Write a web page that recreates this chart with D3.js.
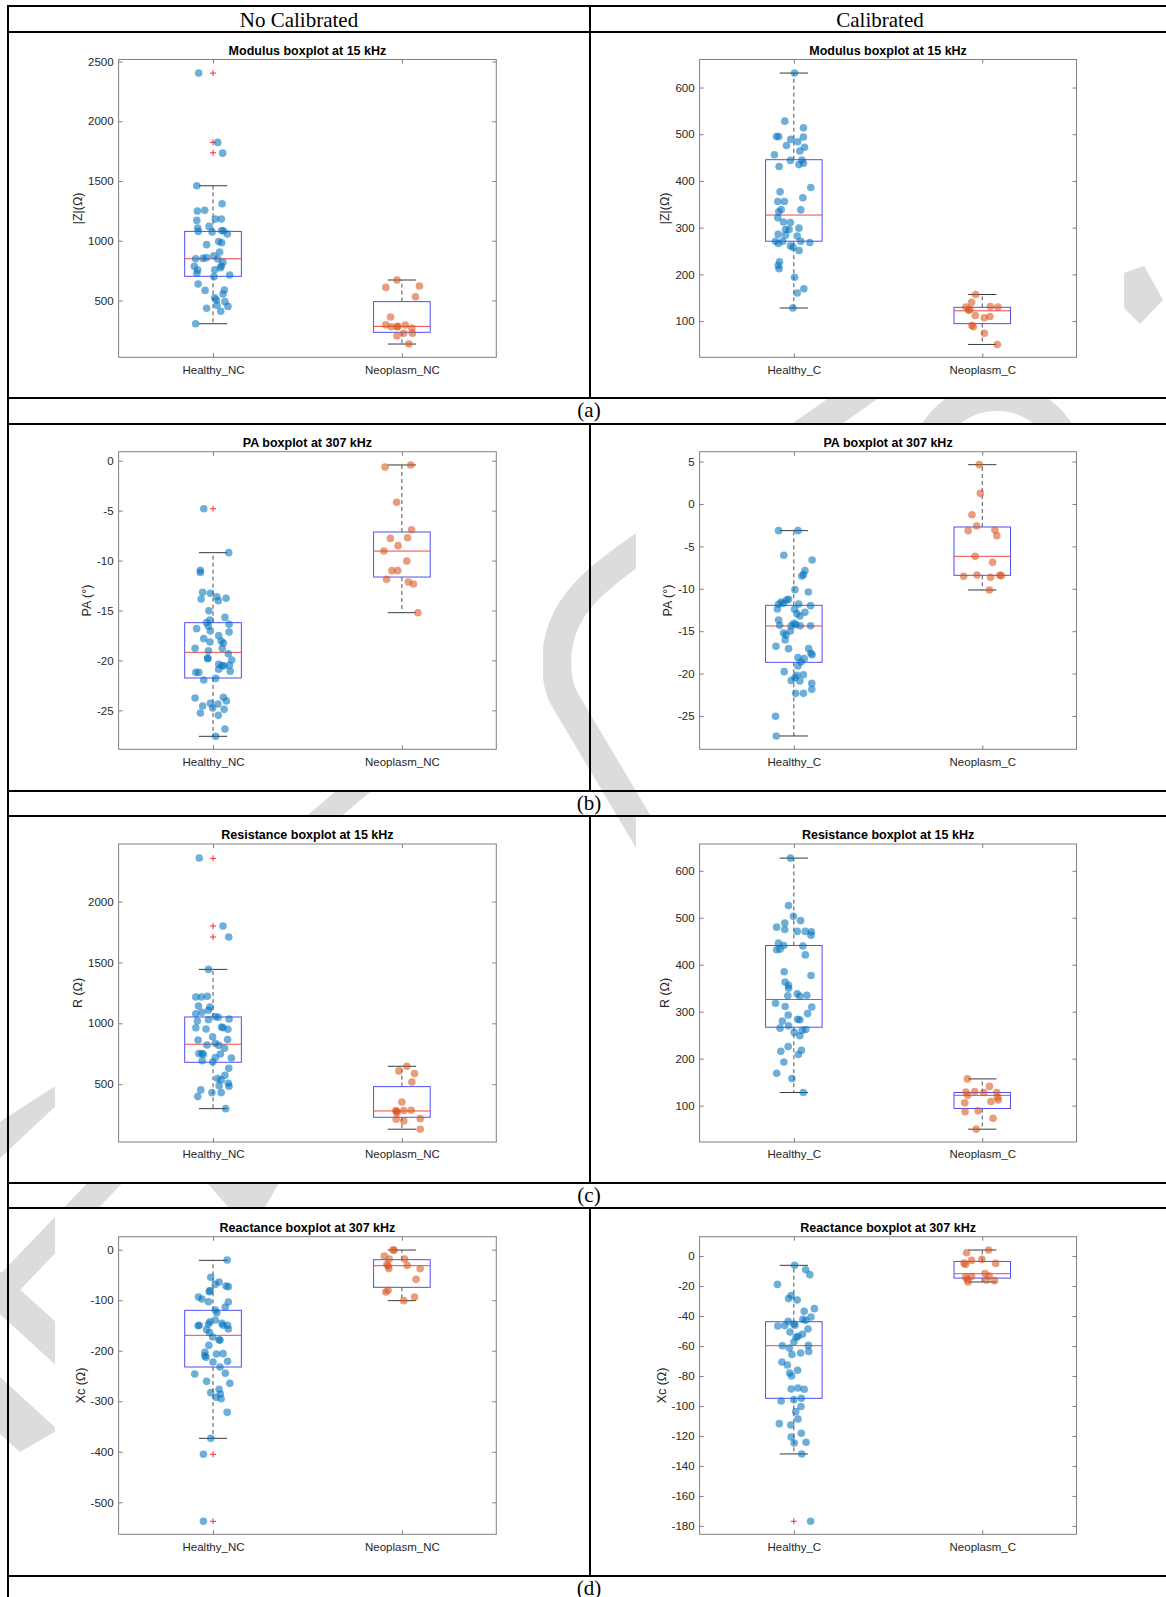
<!DOCTYPE html>
<html><head><meta charset="utf-8">
<script src="https://cdn.jsdelivr.net/npm/d3@7"></script>
<style>body{margin:0;background:#fff} svg{display:block}</style>
</head><body>
<svg id="c" width="1166" height="1597"></svg>
<script>
// ---------------- DATA ----------------
const columnHeaders = ["No Calibrated", "Calibrated"];
const rowLabels = ["(a)", "(b)", "(c)", "(d)"];
const panelTitles = ["Modulus boxplot at 15 kHz", "PA boxplot at 307 kHz", "Resistance boxplot at 15 kHz", "Reactance boxplot at 307 kHz"];
const yLabels = ["|Z|(Ω)", "PA (°)", "R (Ω)", "Xc (Ω)"];
const catsNC = ["Healthy_NC", "Neoplasm_NC"];
const catsC = ["Healthy_C", "Neoplasm_C"];

// y-axis ticks and limits
const aNC_ticks = [500, 1000, 1500, 2000, 2500], aNC_lim = [24, 2517];
const aC_ticks = [100, 200, 300, 400, 500, 600], aC_lim = [22.5, 660];
const bNC_ticks = [-25, -20, -15, -10, -5, 0], bNC_lim = [-28.9, 0.9];
const bC_ticks = [-25, -20, -15, -10, -5, 0, 5], bC_lim = [-28.93, 6.17];
const cNC_ticks = [500, 1000, 1500, 2000], cNC_lim = [25, 2473];
const cC_ticks = [100, 200, 300, 400, 500, 600], cC_lim = [22.7, 657];
const dNC_ticks = [-500, -400, -300, -200, -100, 0], dNC_lim = [-563.3, 25.7];
const dC_ticks = [-180, -160, -140, -120, -100, -80, -60, -40, -20, 0], dC_lim = [-185.6, 12.9];

// (a) Modulus, no calibrated
const aNC_H = [2403,1823,1733,1460,1310,1248,1254,1170,1181,1181,1120,1106,1078,1073,1086,1081,1056,994,983,967,905,849,852,858,874,847,819,785,755,727,788,774,757,699,713,637,584,587,554,523,503,490,459,450,434,409,305];
const aNC_Hj = [-0.076,0.025,0.051,-0.086,0.048,-0.083,-0.044,-0.086,0.012,0.044,-0.021,-0.081,-0.078,-0.005,0.046,0.056,0.076,0.030,0.046,-0.034,0.035,-0.092,-0.053,-0.035,0.004,0.025,0.053,-0.099,-0.081,-0.086,0.044,0.039,0.009,0.005,0.088,-0.079,-0.042,0.060,0.053,0.009,0.018,0.063,0.021,0.079,-0.034,0.041,-0.092];
const aNC_N = [671,609,621,531,361,297,280,280,283,294,269,225,202,225,135];
const aNC_Nj = [-0.026,-0.085,0.093,0.072,-0.060,-0.085,-0.056,-0.025,-0.021,0.018,0.053,0.009,-0.026,0.056,0.037];
const aNC_Hbox = [305,702,849,1078,1460], aNC_Hout = [2403,1823,1736];
const aNC_Nbox = [135,233,283,490,671], aNC_Nout = [];

// (a) Modulus, calibrated
const aC_H = [631,528,514,495,495,494,489,484,476,472,464,456,444,445,438,435,431,386,377,364,356,356,339,334,338,321,312,311,299,296,296,286,284,282,271,266,271,271,268,261,258,251,227,219,212,194,169,160,128];
const aC_Hj = [0.004,-0.048,0.051,-0.092,-0.080,0.051,-0.016,0.021,-0.039,0.057,0.032,-0.103,-0.018,0.043,0.051,0.027,-0.078,0.090,-0.073,0.048,-0.085,-0.050,-0.067,-0.080,0.037,-0.085,-0.055,-0.018,0.027,-0.044,-0.025,-0.083,-0.044,0.018,-0.097,-0.082,-0.059,0.037,0.085,-0.018,-0.004,0.028,-0.076,-0.083,-0.078,0.004,0.053,0.018,-0.005];
const aC_N = [157,140,130,125,131,130,112,107,110,91,88,74,50,123];
const aC_Nj = [-0.035,-0.057,-0.087,-0.066,0.043,0.083,-0.037,0.011,0.041,-0.055,-0.048,0.011,0.080,-0.073];
const aC_Hbox = [128,271,327,445.5,631], aC_Hout = [];
const aC_Nbox = [50,94.6,122,129.5,157], aC_Nout = [];

// (b) Phase angle, no calibrated
const bNC_H = [-4.81,-9.21,-10.98,-11.2,-13.18,-13.28,-13.85,-13.62,-14.02,-13.78,-15.02,-15.69,-15.95,-16.22,-16.59,-16.39,-16.82,-17.06,-17.16,-17.52,-17.82,-18.16,-18.06,-18.26,-18.79,-18.79,-19.03,-19.33,-19.76,-19.83,-19.96,-20.39,-20.53,-20.53,-20.49,-20.89,-21.09,-21.2,-21.2,-21.8,-21.96,-23.77,-23.7,-24.07,-24.3,-24.37,-24.57,-24.77,-24.9,-25.27,-25.5,-26.87,-27.6];
const bNC_Hj = [-0.049,0.083,-0.067,-0.067,-0.055,-0.014,-0.063,0.020,0.028,0.069,-0.022,0.063,-0.016,-0.034,-0.024,0.085,-0.087,-0.014,0.085,0.030,-0.049,-0.016,0.043,0.055,0.049,-0.095,-0.024,0.081,-0.028,-0.028,0.099,0.030,0.047,0.059,0.087,0.030,0.091,-0.091,-0.075,0.014,-0.049,-0.095,0.055,0.071,-0.014,0.026,-0.055,-0.002,0.059,-0.067,0.028,0.063,0.014];
const bNC_N = [-0.63,-0.43,-4.17,-6.91,-7.78,-7.71,-8.51,-9.05,-10.05,-11.01,-11.01,-11.88,-12.15,-12.35,-15.22];
const bNC_Nj = [-0.089,0.047,-0.028,0.051,-0.061,0.030,-0.020,-0.095,0.026,-0.053,-0.022,-0.081,0.034,0.061,0.085];
const bNC_Hbox = [-27.6,-21.76,-19.19,-16.22,-9.21], bNC_Hout = [-4.81];
const bNC_Nbox = [-15.22,-11.65,-9.05,-7.14,-0.43], bNC_Nout = [];

// (b) Phase angle, calibrated
const bC_H = [-3.14,-3.14,-6.05,-6.6,-7.86,-8.33,-8.49,-10.1,-10.38,-11.24,-11.32,-11.56,-11.71,-11.83,-11.79,-11.99,-12.38,-12.42,-12.78,-12.93,-13.21,-13.68,-14.31,-14.07,-14.23,-14.35,-14.35,-14.35,-14.98,-15.21,-15.45,-16.04,-16.78,-17.06,-17.06,-17.61,-17.77,-18.12,-18.24,-18.63,-19.1,-19.77,-20.13,-20.2,-20.48,-20.83,-20.87,-21.15,-21.86,-22.33,-22.33,-25.04,-27.36];
const bC_Hj = [-0.081,0.022,-0.053,0.097,0.059,0.051,0.042,0.006,0.077,-0.028,-0.038,-0.067,-0.055,-0.081,0.026,0.089,-0.087,0.004,0.059,0.016,0.032,-0.081,-0.075,0.000,0.010,-0.014,0.034,0.089,-0.018,-0.055,-0.042,-0.046,-0.095,-0.028,0.079,0.091,0.097,0.022,0.055,0.038,0.022,-0.051,0.051,0.016,0.006,-0.014,0.032,0.095,0.095,0.010,0.051,-0.097,-0.093];
const bC_N = [4.64,1.26,-1.26,-2.59,-3.14,-3.07,-3.73,-6.17,-6.88,-8.53,-8.37,-8.65,-8.41,-8.45,-10.14];
const bC_Nj = [-0.016,-0.010,-0.055,-0.030,-0.075,0.067,0.077,-0.038,0.055,-0.099,-0.028,0.044,0.093,0.101,0.038];
const bC_Hbox = [-27.36,-18.67,-14.39,-11.95,-3.14], bC_Hout = [];
const bC_Nbox = [-10.14,-8.41,-6.17,-2.71,4.64], bC_Nout = [];

// (c) Resistance, no calibrated
const cNC_H = [2358,1799,1709,1443,1216,1216,1222,1142,1134,1079,1090,1107,1019,1030,1055,1049,1036,964,953,970,964,951,890,863,866,822,836,819,795,751,751,745,748,693,682,718,715,630,573,546,535,507,483,488,453,431,431,398,299];
const cNC_Hj = [-0.073,0.053,0.083,-0.024,-0.091,-0.061,-0.030,-0.077,-0.016,-0.091,-0.059,-0.024,-0.083,-0.024,0.012,0.028,0.085,-0.091,-0.037,0.045,0.053,0.079,-0.002,-0.079,0.077,-0.032,0.012,0.030,0.061,-0.075,-0.059,-0.051,0.039,-0.057,-0.002,0.012,0.097,0.083,0.063,0.024,0.043,0.081,0.085,0.032,-0.065,-0.006,0.043,-0.081,0.067];
const cNC_N = [647,609,587,518,354,275,283,283,286,266,217,212,198,130];
const cNC_Nj = [0.026,-0.016,0.067,0.053,0,-0.028,-0.032,0.010,0.049,-0.026,0.097,-0.030,0.010,0.097];
const cNC_Hbox = [299,680,828,1052,1443], cNC_Hout = [2355,1799,1709];
const cNC_Nbox = [130,228,280,480,647], cNC_Nout = [];

// (c) Resistance, calibrated
const cC_H = [627,526,503,494,489,480,475,471,471,470,463,446,441,440,432,433,421,385,377,363,356,350,338,334,333,335,318,310,311,293,296,284,283,280,270,265,262,256,260,249,226,216,218,209,193,169,158,128];
const cC_Hj = [-0.018,-0.028,-0.002,0.036,-0.048,-0.091,-0.048,0.018,0.061,0.093,0.091,-0.081,-0.053,0.048,-0.091,-0.073,0.061,-0.051,0.091,-0.046,-0.028,-0.028,0.018,-0.032,0.032,0.069,-0.097,0.095,-0.046,-0.030,0.073,0.020,0.032,-0.061,-0.028,-0.073,0.063,0.002,0.044,0.032,-0.030,-0.069,0.040,0.024,-0.053,-0.091,-0.010,0.050];
const cC_N = [157,141,129,130,128,128,122,118,112,109,106,89,87,73,50];
const cC_Nj = [-0.079,0.038,-0.087,-0.040,0.008,0.077,-0.077,0.081,0.085,0.046,-0.093,-0.022,-0.091,0.057,-0.032];
const cC_Hbox = [128,267,326,441,627], cC_Hout = [];
const cC_Nbox = [50,94,122,128,157], cC_Nout = [];

// (d) Reactance, no calibrated
const dNC_H = [-20.4,-54.7,-64,-68.6,-71.9,-73.2,-93.7,-97.6,-102.9,-103.6,-113.5,-81.1,-83.1,-119.4,-124.7,-139.2,-142.5,-147.1,-149.7,-150.4,-145.8,-149.7,-149.7,-157,-158.3,-164.2,-172.8,-178.8,-178.8,-189.3,-203.2,-206.5,-205.8,-209.8,-213.1,-221,-222.3,-232.2,-246,-244.7,-260.6,-264.5,-276.4,-283,-285.6,-292.2,-294.9,-321.9,-373.4,-405,-537.6];
const dNC_Hj = [0.075,-0.012,0.032,0.012,0.069,0.081,-0.077,-0.059,-0.024,0.081,0.065,-0.016,-0.020,0.012,0.020,0.012,-0.016,-0.024,-0.073,-0.079,0.047,0.053,0.077,0.081,-0.034,-0.018,-0.002,0.032,0.037,-0.022,-0.043,0.018,0.053,-0.043,-0.037,0.077,0,0.037,-0.097,0.065,-0.034,0.089,0.032,-0.012,0.039,0.016,0.043,0.075,-0.012,-0.051,-0.051];
const dNC_N = [0,-1.3,-12.5,-18.5,-18.5,-29,-32.3,-31,-37.6,-37.6,-58.7,-80.5,-83.8,-93.7,-100.9];
const dNC_Nj = [-0.047,-0.041,-0.093,-0.067,0.014,-0.079,-0.073,0.028,-0.069,0.097,0.075,-0.073,-0.085,0.067,0.010];
const dNC_Hbox = [-373.4,-232.2,-169.5,-120,-21.1], dNC_Hout = [-405,-537.6];
const dNC_Nbox = [-100.9,-74.5,-31.7,-19.8,-0.7], dNC_Nout = [];

// (d) Reactance, calibrated
const dC_H = [-6.2,-9.1,-12.4,-18.9,-26.4,-28.4,-29.3,-35.1,-36.9,-40.7,-42.2,-42.9,-43.6,-45.3,-46.2,-46.7,-46.4,-48.7,-50.7,-52.2,-53.6,-54.2,-57.3,-59.8,-59.6,-61.3,-63.6,-64.7,-65.6,-70.7,-72.7,-76.2,-78,-80,-88.7,-88,-88.9,-96.7,-95.8,-94.9,-100.4,-103.8,-108.7,-111.8,-112.7,-118.2,-120.7,-124.2,-124.7,-132,-176.9];
const dC_Hj = [0.004,0.063,0.085,-0.087,-0.014,-0.028,0.018,0.109,0.055,0.091,0.048,0.063,-0.030,0,0.006,-0.085,-0.048,0.075,-0.020,0.046,0.022,0.012,0,-0.061,0.077,-0.024,0.079,0.036,-0.010,-0.063,-0.034,0.020,-0.022,-0.012,-0.014,0.022,0.055,-0.067,0,0.040,0.038,0.010,0.022,-0.077,-0.016,0.040,-0.014,0.065,0.002,0.042,0.089];
const dC_N = [4.0,2.2,-2.2,-2.9,-4.7,-5.6,-4.9,-11.6,-13.6,-14.2,-13.3,-15.6,-16,-16.4,-17.3];
const dC_Nj = [0.034,-0.083,-0.002,-0.057,-0.097,-0.089,0.071,0.014,-0.057,-0.089,0.036,-0.079,0.022,0.065,-0.075];
const dC_Hbox = [-132,-94.9,-59.8,-43.8,-6.2], dC_Hout = [-176.9];
const dC_Nbox = [-17.3,-14.7,-11.8,-3.6,4.0], dC_Nout = [];

// ---------------- PANELS ----------------
const panels = [
  {row:0,col:0,cats:catsNC,ticks:aNC_ticks,lim:aNC_lim,H:aNC_H,Hj:aNC_Hj,N:aNC_N,Nj:aNC_Nj,Hbox:aNC_Hbox,Nbox:aNC_Nbox,Hout:aNC_Hout,Nout:aNC_Nout},
  {row:0,col:1,cats:catsC,ticks:aC_ticks,lim:aC_lim,H:aC_H,Hj:aC_Hj,N:aC_N,Nj:aC_Nj,Hbox:aC_Hbox,Nbox:aC_Nbox,Hout:aC_Hout,Nout:aC_Nout},
  {row:1,col:0,cats:catsNC,ticks:bNC_ticks,lim:bNC_lim,H:bNC_H,Hj:bNC_Hj,N:bNC_N,Nj:bNC_Nj,Hbox:bNC_Hbox,Nbox:bNC_Nbox,Hout:bNC_Hout,Nout:bNC_Nout},
  {row:1,col:1,cats:catsC,ticks:bC_ticks,lim:bC_lim,H:bC_H,Hj:bC_Hj,N:bC_N,Nj:bC_Nj,Hbox:bC_Hbox,Nbox:bC_Nbox,Hout:bC_Hout,Nout:bC_Nout},
  {row:2,col:0,cats:catsNC,ticks:cNC_ticks,lim:cNC_lim,H:cNC_H,Hj:cNC_Hj,N:cNC_N,Nj:cNC_Nj,Hbox:cNC_Hbox,Nbox:cNC_Nbox,Hout:cNC_Hout,Nout:cNC_Nout},
  {row:2,col:1,cats:catsC,ticks:cC_ticks,lim:cC_lim,H:cC_H,Hj:cC_Hj,N:cC_N,Nj:cC_Nj,Hbox:cC_Hbox,Nbox:cC_Nbox,Hout:cC_Hout,Nout:cC_Nout},
  {row:3,col:0,cats:catsNC,ticks:dNC_ticks,lim:dNC_lim,H:dNC_H,Hj:dNC_Hj,N:dNC_N,Nj:dNC_Nj,Hbox:dNC_Hbox,Nbox:dNC_Nbox,Hout:dNC_Hout,Nout:dNC_Nout},
  {row:3,col:1,cats:catsC,ticks:dC_ticks,lim:dC_lim,H:dC_H,Hj:dC_Hj,N:dC_N,Nj:dC_Nj,Hbox:dC_Hbox,Nbox:dC_Nbox,Hout:dC_Hout,Nout:dC_Nout}
];

// ---------------- LAYOUT ----------------
const W = 1166, Ht = 1597;
const svg = d3.select("#c");
svg.append("rect").attr("width", W).attr("height", Ht).attr("fill", "#fff");

const tableLeft = 8, tableTop = 6, headerBottom = 32, colDiv = 590;
const panelRows = [[32,398],[424,791],[816,1183],[1208,1576]];
const imgX = [[55,543],[636,1124]];
const axX = [[118.6,496.3],[699.6,1076.5]];
const axY = [[59.5,357.3],[451.7,749.3],[844,1142],[1236.7,1534.3]];
const SANS = "'Liberation Sans', Arial, Helvetica, sans-serif";
const SERIF = "'Liberation Serif', 'Times New Roman', serif";
const blue = "#0072BD", orange = "#D95319";

// ---- background watermark (visible only outside the chart pictures) ----
const wmGrey = "#dcdcdc";
const wm = svg.append("g");
const wmPolys = [
  [[1124,273],[1144,266],[1163,300],[1140,324],[1124,308]],
  [[290,830],[325,830],[390,775],[355,775]],
  [[95,1175],[130,1175],[20,1290],[-15,1290]],
  [[207,1183],[279,1183],[264,1209],[230,1209]],
  [[60,1083],[60,1102],[-5,1163],[-5,1125]],
  [[-10,1262],[70,1335],[70,1378],[-10,1305]],
  [[-10,1368],[58,1430],[20,1452],[-10,1425]]
];
wmPolys.forEach(pp => wm.append("path").attr("d", d3.line()(pp) + "Z").attr("fill", wmGrey));
wm.append("path").attr("d", "M905,362 L640,548 C598,578 560,605 557,655 C556,675 558,688 565,700 L675,885")
  .attr("fill", "none").attr("stroke", wmGrey).attr("stroke-width", 29);
wm.append("circle").attr("cx", 997).attr("cy", 470).attr("r", 73.5)
  .attr("fill", "none").attr("stroke", wmGrey).attr("stroke-width", 29);
// opaque chart pictures
panelRows.forEach(r => imgX.forEach(c =>
  svg.append("rect").attr("x", c[0]).attr("y", r[0]).attr("width", c[1] - c[0]).attr("height", r[1] - r[0]).attr("fill", "#fff")));

function drawPanel(p) {
  const [x0, x1] = axX[p.col], [y0, y1] = axY[p.row];
  const x = d3.scaleLinear().domain([0.5, 2.5]).range([x0, x1]);
  const y = d3.scaleLinear().domain(p.lim).range([y1, y0]);
  const g = svg.append("g");
  const fmt = d => String(d);

  const ax = g.append("g").attr("font-family", SANS);
  const la = ax.append("g").attr("transform", `translate(${x0},0)`)
    .call(d3.axisLeft(y).tickValues(p.ticks).tickFormat(fmt).tickSizeInner(-4).tickSizeOuter(0).tickPadding(5));
  ax.append("g").attr("transform", `translate(${x1},0)`)
    .call(d3.axisRight(y).tickValues(p.ticks).tickFormat("").tickSizeInner(-4).tickSizeOuter(0));
  ax.append("g").attr("transform", `translate(0,${y1})`)
    .call(d3.axisBottom(x).tickValues([1, 2]).tickFormat((d, i) => p.cats[i]).tickSizeInner(-4).tickSizeOuter(0).tickPadding(8.3));
  ax.append("g").attr("transform", `translate(0,${y0})`)
    .call(d3.axisTop(x).tickValues([1, 2]).tickFormat("").tickSizeInner(-4).tickSizeOuter(0));
  ax.selectAll(".domain").remove();
  ax.selectAll(".tick line").attr("stroke", "#7f7f7f");
  ax.selectAll(".tick text").attr("fill", "#262626").attr("font-size", "11.5px");
  g.append("rect").attr("x", x0).attr("y", y0).attr("width", x1 - x0).attr("height", y1 - y0)
    .attr("fill", "none").attr("stroke", "#808080").attr("stroke-width", 1);

  let maxW = 0;
  la.selectAll(".tick text").each(function () { maxW = Math.max(maxW, this.getComputedTextLength()); });
  g.append("text").attr("transform", `translate(${x0 - 5 - maxW - 10},${(y0 + y1) / 2}) rotate(-90)`)
    .attr("text-anchor", "middle").attr("dominant-baseline", "central")
    .attr("font-family", SANS).attr("font-size", "12.5px").attr("fill", "#262626")
    .text(yLabels[p.row]);

  g.append("text").attr("x", (x0 + x1) / 2).attr("y", y0 - 5).attr("text-anchor", "middle")
    .attr("font-family", SANS).attr("font-weight", "bold").attr("font-size", "12.5px").attr("fill", "#000")
    .text(panelTitles[p.row]);

  const groups = [
    {c: 1, box: p.Hbox, out: p.Hout, vals: p.H, jit: p.Hj, color: blue},
    {c: 2, box: p.Nbox, out: p.Nout, vals: p.N, jit: p.Nj, color: orange}
  ];
  groups.forEach(gr => {
    const [lo, q1, med, q3, hi] = gr.box;
    const bg = g.append("g");
    bg.append("line").attr("x1", x(gr.c)).attr("x2", x(gr.c)).attr("y1", y(q3)).attr("y2", y(hi))
      .attr("stroke", "#505050").attr("stroke-dasharray", "4,3");
    bg.append("line").attr("x1", x(gr.c)).attr("x2", x(gr.c)).attr("y1", y(q1)).attr("y2", y(lo))
      .attr("stroke", "#505050").attr("stroke-dasharray", "4,3");
    [lo, hi].forEach(v => bg.append("line").attr("x1", x(gr.c - 0.075)).attr("x2", x(gr.c + 0.075))
      .attr("y1", y(v)).attr("y2", y(v)).attr("stroke", "#3a3a3a"));
    bg.append("rect").attr("x", x(gr.c - 0.15)).attr("y", y(q3)).attr("width", x(gr.c + 0.15) - x(gr.c - 0.15))
      .attr("height", y(q1) - y(q3)).attr("fill", "none").attr("stroke", "#4f4ff2");
    bg.append("line").attr("x1", x(gr.c - 0.15)).attr("x2", x(gr.c + 0.15)).attr("y1", y(med)).attr("y2", y(med))
      .attr("stroke", "#f04545");
    gr.out.forEach(v => {
      bg.append("path").attr("d", `M${x(gr.c) - 3},${y(v)}h6M${x(gr.c)},${y(v) - 3}v6`)
        .attr("stroke", "#f03030").attr("fill", "none");
    });
  });
  groups.forEach(gr => {
    const n = Math.min(gr.vals.length, gr.jit.length);
    g.append("g").selectAll("circle").data(d3.range(n)).join("circle")
      .attr("cx", i => x(gr.c + gr.jit[i])).attr("cy", i => y(gr.vals[i])).attr("r", 3.8)
      .attr("fill", gr.color).attr("fill-opacity", 0.57);
  });
}

// table lines
const tl = svg.append("g").attr("stroke", "#000").attr("stroke-width", 2);
[tableTop, headerBottom].concat(panelRows.flat()).forEach(yy =>
  tl.append("line").attr("x1", tableLeft - 1).attr("x2", W).attr("y1", yy).attr("y2", yy));
tl.append("line").attr("x1", tableLeft).attr("x2", tableLeft).attr("y1", tableTop - 1).attr("y2", Ht);
tl.append("line").attr("x1", colDiv).attr("x2", colDiv).attr("y1", tableTop).attr("y2", headerBottom);
panelRows.forEach(r => tl.append("line").attr("x1", colDiv).attr("x2", colDiv).attr("y1", r[0]).attr("y2", r[1]));

// headers and row labels
const hdrX = [299, 880];
columnHeaders.forEach((t, i) => svg.append("text").attr("x", hdrX[i]).attr("y", 27).attr("text-anchor", "middle")
  .attr("font-family", SERIF).attr("font-size", "21px").attr("fill", "#000").text(t));
rowLabels.forEach((t, i) => svg.append("text").attr("x", 589).attr("y", panelRows[i][1] + 18.5).attr("text-anchor", "middle")
  .attr("font-family", SERIF).attr("font-size", "21px").attr("fill", "#000").text(t));

panels.forEach(drawPanel);
</script>
</body></html>
